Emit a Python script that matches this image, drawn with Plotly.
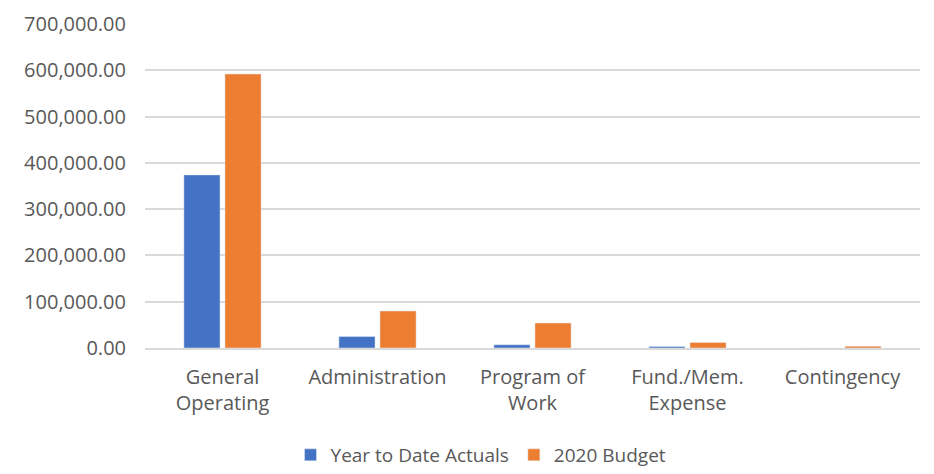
import plotly.graph_objects as go

categories = ["General<br>Operating", "Administration", "Program of<br>Work", "Fund./Mem.<br>Expense", "Contingency"]
ytd_actuals = [374000, 25000, 7000, 3000, 0]
budget_2020 = [592000, 80000, 54000, 12000, 4000]
y_ticks = [0, 100000, 200000, 300000, 400000, 500000, 600000, 700000]

fam = "Open Sans, Liberation Sans, sans-serif"
font = dict(family=fam, size=20, color="#595959")

fig = go.Figure()
fig.add_trace(go.Bar(name="Year to Date Actuals", x=categories, y=ytd_actuals, marker_color="#4472C4"))
fig.add_trace(go.Bar(name="2020 Budget", x=categories, y=budget_2020, marker_color="#ED7D31"))

fig.update_layout(
    width=934, height=474,
    margin=dict(l=145, r=14, t=24, b=126, autoexpand=False),
    paper_bgcolor="white", plot_bgcolor="white",
    barmode="group", bargap=0.47, bargroupgap=0.12,
    font=font,
    showlegend=True,
    legend=dict(orientation="h", xref="container", x=0.515, xanchor="center",
                yref="container", y=-0.012, yanchor="bottom",
                font=dict(family=fam, size=19, color="#595959"),
                itemwidth=30, tracegroupgap=0),
)
fig.update_yaxes(range=[0, 700000], tickvals=y_ticks, tickformat=",.2f",
                 showgrid=True, gridcolor="#d9d9d9", gridwidth=1.5, zeroline=False,
                 showline=False, ticks="", ticklabelstandoff=18, automargin=False,
                 tickfont=font)
fig.update_xaxes(showline=True, linecolor="#d9d9d9", linewidth=1.5, ticks="",
                 ticklabelstandoff=10, automargin=False,
                 tickfont=font)

fig.write_html("out.html")
